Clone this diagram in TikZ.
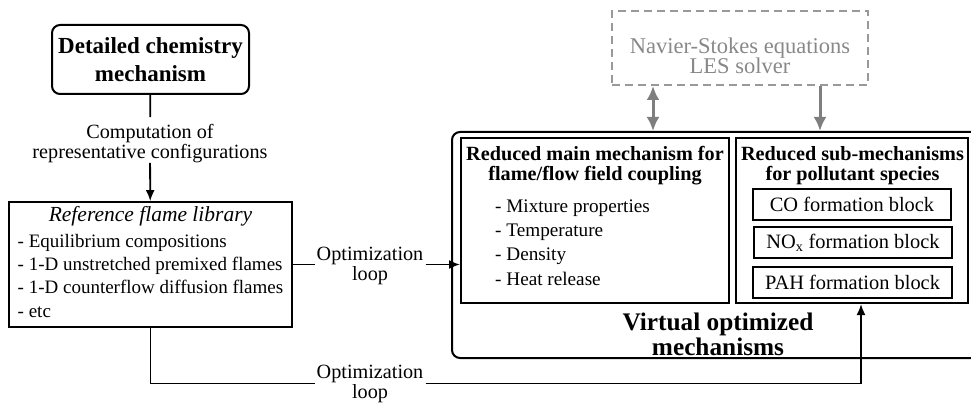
\documentclass[tikz,border=0pt]{standalone}
\usepackage{fontspec}
\setmainfont{Liberation Serif}
\usetikzlibrary{arrows.meta,positioning}
\definecolor{lesgray}{RGB}{136,136,136}
\definecolor{lesarrow}{RGB}{127,127,127}
\definecolor{lesdash}{RGB}{153,153,153}
\tikzset{
  blacktip/.tip={Latex[length=11pt,width=9pt]},
  graytip/.tip={Latex[length=14pt,width=13pt]}
}

\begin{document}
\begin{tikzpicture}[x=1pt, y=-1pt,
  roundbox/.style={draw, line width=2pt, rounded corners=8pt, minimum width=197pt,
    minimum height=69pt, inner sep=0pt, align=center,
    font=\fontsize{23}{28}\selectfont\bfseries},
  libbox/.style={draw, line width=1.8pt, minimum width=283pt, minimum height=125pt,
    inner sep=0pt, font=\fontsize{19}{23.3}\selectfont},
  mechbox/.style={draw, line width=2pt, inner sep=0pt},
  blockbox/.style={draw, line width=2pt, inner sep=0pt, minimum height=31pt,
    minimum width=198pt, font=\fontsize{20.4}{22}\selectfont},
  container/.style={draw, line width=2pt, rounded corners=8pt, inner sep=0pt},
  boxtitle/.style={align=center, inner sep=0pt, font=\fontsize{20.2}{20}\selectfont\bfseries},
  itemlist/.style={align=left, inner sep=2pt, font=\fontsize{19.2}{24.3}\selectfont},
  label/.style={align=center, inner xsep=2pt, inner ysep=0pt, font=\fontsize{20.2}{20}\selectfont},
  lesbox/.style={draw=lesdash, dash pattern=on 8pt off 5pt, line width=2pt,
    minimum width=256pt, minimum height=74pt, inner sep=0pt},
  lestext/.style={align=center, inner sep=0pt, text=lesgray,
    font=\fontsize{22.5}{20.5}\selectfont},
  link/.style={line width=1.8pt},
  grayarrow/.style={draw=lesarrow, line width=3pt}
]

    \useasboundingbox (0,0) rectangle (971,403);
    \clip (0,0) rectangle (971,403);

    % --- left column ---
    \node[roundbox] (detailed) at (150.5,59.5) {Detailed chemistry\\mechanism};
    \node[label] (computation) at (150,143.5) {Computation of\\representative configurations};
    \node[libbox] (library) at (150.5,264.5) {%
      \begin{tabular}{@{}l@{}}
        \multicolumn{1}{@{}c@{}}{\fontsize{21.5}{23}\selectfont\itshape Reference flame library}\\[2.5pt]
        - Equilibrium compositions\\
        - 1-D unstretched premixed flames\\
        - 1-D counterflow diffusion flames\\
        - etc
      \end{tabular}};

    \draw[link, shorten >=7pt] (detailed) -- (computation);
    \draw[link, -blacktip] (computation) -- (library);

    % --- virtual optimized mechanisms ---
    \node[container, minimum width=548pt, minimum height=226pt] (virtual) at (726,245) {};
    \node[boxtitle, font=\fontsize{25.3}{25}\selectfont\bfseries] (virtlabel) at (718,334)
      {Virtual optimized\\mechanisms};

    \node[mechbox, minimum width=268pt, minimum height=165pt] (mainbox) at (595,220.5) {};
    \node[boxtitle] (maintitle) at (595,166) {Reduced main mechanism for\\flame/flow field coupling};
    \node[itemlist, anchor=west] (mainlist) at (493,242.5)
      {- Mixture properties\\- Temperature\\- Density\\- Heat release};

    \node[mechbox, minimum width=232pt, minimum height=165pt] (subbox) at (852,220.5) {};
    \node[boxtitle] (subtitle) at (852.5,166) {Reduced sub-mechanisms\\for pollutant species};
    \node[blockbox] (coblock) at (852,204.5) {CO formation block};
    \node[blockbox] (noxblock) at (853,242.5) {NO\textsubscript{x} formation block};
    \node[blockbox, minimum width=199pt] (pahblock) at (852.5,282) {PAH formation block};

    % --- optimization loops ---
    \node[label] (loopmain) at (370,265.5) {Optimization\\loop};
    \node[label] (loopsub) at (370,383.5) {Optimization\\loop};

    \draw[link] (library.east) -- (library.east -| loopmain.west);
    \draw[link, -blacktip] (library.east -| loopmain.east) -- (library.east -| mainbox.west);
    \draw[link] (library.south) |- (loopsub.west);
    \draw[link, -blacktip] (loopsub.east) -| ([xshift=9pt]subbox.south);

    % --- LES solver ---
    \node[lesbox] (navier) at (740,48) {};
    \node[lestext] (naviertext) at (740,56) {Navier-Stokes equations\\LES solver};
    \coordinate (nsleft) at ([xshift=-87pt]navier.south);
    \coordinate (nsright) at ([xshift=80pt]navier.south);
    \draw[grayarrow, graytip-graytip] (nsleft) -- (nsleft |- virtual.north);
    \draw[grayarrow, -graytip] (nsright) -- (nsright |- virtual.north);

\end{tikzpicture}
\end{document}
